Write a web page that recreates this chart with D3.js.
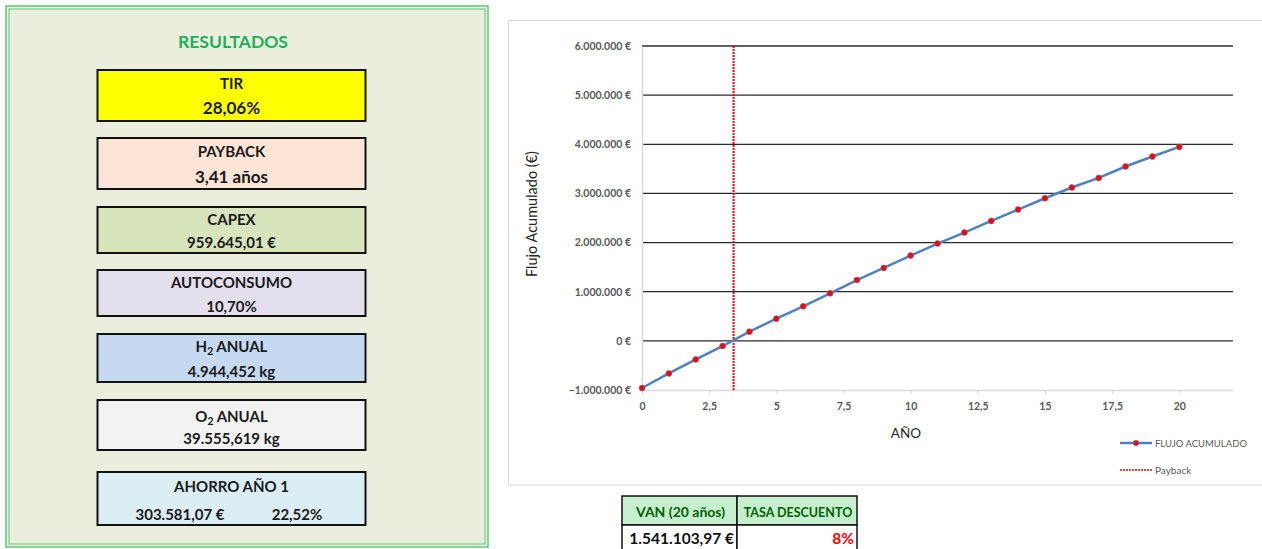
<!DOCTYPE html>
<html>
<head>
<meta charset="utf-8">
<script src="https://cdn.jsdelivr.net/npm/d3@7/dist/d3.min.js"></script>
<style>
  html, body { margin: 0; padding: 0; background: #ffffff; }
  svg { display: block; font-family: Lato, "Open Sans", "DejaVu Sans", sans-serif; }
</style>
</head>
<body>
<svg id="chart" width="1262" height="549"></svg>
<script>
// Cumulative cash flow per project year (€)
const years = [0, 1, 2, 3, 4, 5, 6, 7, 8, 9, 10, 11, 12, 13, 14, 15, 16, 17, 18, 19, 20];
const flujoAcumulado = [-959645.01, -662000, -377000, -106000, 187000, 452000, 703000, 967000,
  1238000, 1483000, 1735000, 1980000, 2204000, 2440000, 2672000, 2902000, 3120000, 3316000,
  3548000, 3752000, 3947000];
const paybackYears = 3.41;

const yTicks = [-1000000, 0, 1000000, 2000000, 3000000, 4000000, 5000000, 6000000];
const xTicks = [0, 2.5, 5, 7.5, 10, 12.5, 15, 17.5, 20];

// Summary boxes of the results panel
const resultLabels = ["TIR", "PAYBACK", "CAPEX", "AUTOCONSUMO", "H2 ANUAL", "O2 ANUAL", "AHORRO AÑO 1"];
const resultValues = ["28,06%", "3,41 años", "959.645,01 €", "10,70%", "4.944,452 kg", "39.555,619 kg", "303.581,07 €|22,52%"];
const resultFills = ["#FFFF00", "#FCE4D6", "#D8E4BC", "#E4DFEC", "#C5D9F1", "#F2F2F2", "#DAEEF3"];

// NPV table
const vanHeaders = ["VAN (20 años)", "TASA DESCUENTO"];
const vanValues = ["1.541.103,97 €", "8%"];

const locale = d3.formatLocale({ decimal: ",", thousands: ".", grouping: [3], currency: ["", " €"] });
const fmtEuro = v => locale.format(",.0f")(v) + " €";
const fmtYear = locale.format(",~f");

const svg = d3.select("#chart");

/* ---------- Results panel ---------- */
const panel = svg.append("g");
panel.append("rect").attr("x", 6).attr("y", 6).attr("width", 482).attr("height", 541)
  .attr("fill", "#EBEEDD").attr("stroke", "#5CC97D").attr("stroke-width", 1.5);
panel.append("rect").attr("x", 9).attr("y", 9).attr("width", 476).attr("height", 535)
  .attr("fill", "none").attr("stroke", "#5CC97D").attr("stroke-width", 1);
panel.append("text").attr("x", 233).attr("y", 48).attr("text-anchor", "middle")
  .attr("font-size", 17.5).attr("font-weight", 700).attr("fill", "#1DB159").text("RESULTADOS");

const boxTops = [70, 138, 207, 270, 334, 400, 472];
const boxHeights = [51, 51, 46, 46, 48, 50, 53];
const labelDy = [19, 19, 18, 18, 18, 22, 20];
const valueDy = [44, 45, 41, 42, 43, 44, 48];

resultLabels.forEach((lab, i) => {
  const g = panel.append("g");
  g.append("rect").attr("x", 97.5).attr("y", boxTops[i]).attr("width", 268).attr("height", boxHeights[i])
    .attr("fill", resultFills[i]).attr("stroke", "#111").attr("stroke-width", 2);
  const t = g.append("text").attr("x", 231.5).attr("y", boxTops[i] + labelDy[i])
    .attr("text-anchor", "middle").attr("font-size", 15).attr("font-weight", 700).attr("fill", "#1a1a1a");
  const m = lab.match(/^([HO])2 (.*)$/);
  if (m) {
    t.append("tspan").text(m[1]);
    t.append("tspan").attr("font-size", 10.5).attr("dy", 3).text("2");
    t.append("tspan").attr("dy", -3).text(" " + m[2]);
  } else {
    t.text(lab);
  }
  const parts = resultValues[i].split("|");
  const vSize = i < 2 ? 17 : 15;
  if (parts.length === 1) {
    g.append("text").attr("x", 231.5).attr("y", boxTops[i] + valueDy[i]).attr("text-anchor", "middle")
      .attr("font-size", vSize).attr("font-weight", 700).attr("fill", "#1a1a1a").text(parts[0]);
  } else {
    g.append("text").attr("x", 180).attr("y", boxTops[i] + valueDy[i]).attr("text-anchor", "middle")
      .attr("font-size", vSize).attr("font-weight", 700).attr("fill", "#1a1a1a").text(parts[0]);
    g.append("text").attr("x", 297).attr("y", boxTops[i] + valueDy[i]).attr("text-anchor", "middle")
      .attr("font-size", vSize).attr("font-weight", 700).attr("fill", "#1a1a1a").text(parts[1]);
  }
});

/* ---------- Cumulative flow chart ---------- */
svg.append("rect").attr("x", 508.5).attr("y", 20.5).attr("width", 760).attr("height", 464.5)
  .attr("fill", "#fff").attr("stroke", "#D9D9D9").attr("stroke-width", 1);

const x = d3.scaleLinear().domain([0, 22]).range([642, 1233]);
const y = d3.scaleLinear().domain([-1000000, 6000000]).range([390, 46]);

const chart = svg.append("g");

// horizontal gridlines
chart.append("g").selectAll("line").data(yTicks.filter(v => v > -1000000)).join("line")
  .attr("x1", x(0)).attr("x2", x(22)).attr("y1", d => y(d)).attr("y2", d => y(d))
  .attr("stroke", "#2b2b2b").attr("stroke-width", 1.3);

// axes
const yAxis = chart.append("g").attr("transform", `translate(${x(0)},0)`)
  .call(d3.axisLeft(y).tickValues(yTicks).tickFormat(fmtEuro).tickSize(0).tickPadding(11));
yAxis.select(".domain").attr("stroke", "#D9D9D9").attr("stroke-width", 1.5);
yAxis.selectAll("text").attr("font-size", 10.5).attr("font-weight", 700).attr("fill", "#595959")
  .attr("font-family", "Lato, 'Open Sans', sans-serif");

const xAxis = chart.append("g").attr("transform", `translate(0,${y(-1000000)})`)
  .call(d3.axisBottom(x).tickValues(xTicks).tickFormat(fmtYear).tickSize(4).tickPadding(9).tickSizeOuter(0));
xAxis.select(".domain").attr("stroke", "#D9D9D9").attr("stroke-width", 1.5);
xAxis.selectAll(".tick line").attr("stroke", "#D9D9D9");
xAxis.selectAll("text").attr("font-size", 10.5).attr("font-weight", 700).attr("fill", "#595959")
  .attr("font-family", "Lato, 'Open Sans', sans-serif");

// axis titles
chart.append("text").attr("x", 906).attr("y", 438).attr("text-anchor", "middle")
  .attr("font-size", 13.5).attr("fill", "#262626").text("AÑO");
chart.append("text").attr("transform", "translate(537,214) rotate(-90)").attr("text-anchor", "middle")
  .attr("font-size", 14.5).attr("fill", "#262626").text("Flujo Acumulado (€)");

// payback marker
chart.append("line").attr("x1", x(paybackYears)).attr("x2", x(paybackYears))
  .attr("y1", y(6000000)).attr("y2", y(-1000000))
  .attr("stroke", "#FF0000").attr("stroke-width", 2).attr("stroke-dasharray", "2,1");

// cumulative flow line
const pts = years.map((yr, i) => [yr, flujoAcumulado[i]]);
chart.append("path").datum(pts)
  .attr("d", d3.line().x(d => x(d[0])).y(d => y(d[1])))
  .attr("fill", "none").attr("stroke", "#4F81BD").attr("stroke-width", 2.5);
chart.append("g").selectAll("circle").data(pts).join("circle")
  .attr("cx", d => x(d[0])).attr("cy", d => y(d[1])).attr("r", 3)
  .attr("fill", "#FF0000").attr("stroke", "#5B7FB5").attr("stroke-width", 0.6);

// legend
const lg = chart.append("g");
lg.append("line").attr("x1", 1120).attr("x2", 1152).attr("y1", 443).attr("y2", 443)
  .attr("stroke", "#4F81BD").attr("stroke-width", 2.5);
lg.append("circle").attr("cx", 1136).attr("cy", 443).attr("r", 2.8)
  .attr("fill", "#FF0000").attr("stroke", "#5B7FB5").attr("stroke-width", 0.6);
lg.append("text").attr("x", 1155).attr("y", 446.5).attr("font-size", 9.5).attr("fill", "#595959").text("FLUJO ACUMULADO");
lg.append("line").attr("x1", 1120).attr("x2", 1152).attr("y1", 470).attr("y2", 470)
  .attr("stroke", "#FF0000").attr("stroke-width", 1.5).attr("stroke-dasharray", "2,1");
lg.append("text").attr("x", 1155).attr("y", 474).attr("font-size", 10).attr("fill", "#595959").text("Payback");

/* ---------- NPV table ---------- */
const tbl = svg.append("g");
const colX = [622, 737, 857];
const rowY = [496, 525, 552];
vanHeaders.forEach((h, i) => {
  tbl.append("rect").attr("x", colX[i]).attr("y", rowY[0]).attr("width", colX[i + 1] - colX[i]).attr("height", rowY[1] - rowY[0])
    .attr("fill", "#C6EFCE").attr("stroke", "#111").attr("stroke-width", 1.5);
  tbl.append("text").attr("x", (colX[i] + colX[i + 1]) / 2 + 1).attr("y", rowY[0] + 21).attr("text-anchor", "middle")
    .attr("font-size", i === 0 ? 14 : 12.5).attr("font-weight", 700).attr("fill", "#006100").text(h);
  tbl.append("rect").attr("x", colX[i]).attr("y", rowY[1]).attr("width", colX[i + 1] - colX[i]).attr("height", rowY[2] - rowY[1])
    .attr("fill", "#fff").attr("stroke", "#111").attr("stroke-width", 1.5);
  tbl.append("text").attr("x", colX[i + 1] - 3).attr("y", rowY[1] + 19).attr("text-anchor", "end")
    .attr("font-size", 15.5).attr("font-weight", 700).attr("fill", i === 0 ? "#111" : "#FF0000").text(vanValues[i]);
});
</script>
</body>
</html>
